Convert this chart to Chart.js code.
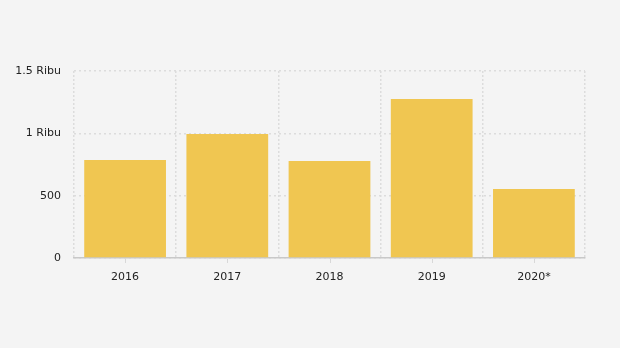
<!DOCTYPE html>
<html>
<head>
<meta charset="utf-8">
<script src="https://cdn.jsdelivr.net/npm/chart.js@4/dist/chart.umd.min.js"></script>
<style>
  html, body { margin: 0; padding: 0; background: #f4f4f4; }
  #wrap { width: 620px; height: 348px; position: relative; }
</style>
</head>
<body>
<div id="wrap"><canvas id="c" width="620" height="348"></canvas></div>
<script>
const categories = ["2016", "2017", "2018", "2019", "2020*"];
const values = [786, 994, 778, 1275, 553];
const yTicks = [0, 500, 1000, 1500];
const yTickLabels = ["0", "500", "1 Ribu", "1.5 Ribu"];

const centerTicks = {
  id: 'centerTicks',
  afterDatasetsDraw(chart) {
    const x = chart.scales.x, ctx = chart.ctx;
    ctx.save();
    ctx.strokeStyle = '#d8d8d8';
    ctx.lineWidth = 1;
    categories.forEach((c, i) => {
      const px = Math.round(x.getPixelForTick(i)) + 0.5;
      ctx.beginPath();
      ctx.moveTo(px, x.top + 1);
      ctx.lineTo(px, x.top + 5);
      ctx.stroke();
    });
    ctx.restore();
  }
};

new Chart(document.getElementById('c'), {
  type: 'bar',
  data: {
    labels: categories,
    datasets: [{
      data: values,
      backgroundColor: '#f0c651',
      borderWidth: 0,
      categoryPercentage: 1.0,
      barPercentage: 0.8
    }]
  },
  options: {
    responsive: false,
    animation: false,
    devicePixelRatio: 1,
    layout: { padding: { top: 71, right: 35, bottom: 60, left: 0 } },
    plugins: { legend: { display: false }, tooltip: { enabled: false } },
    scales: {
      x: {
        afterFit(s) { s.height = 30; },
        grid: { offset: true, color: '#dcdcdc', lineWidth: 1.5, drawTicks: false },
        border: { display: true, color: '#c8c8c8', width: 1.5, dash: [2, 2] },
        ticks: { color: '#222', font: { family: 'DejaVu Sans', size: 11 }, padding: 13 }
      },
      y: {
        min: 0, max: 1500,
        afterFit(s) { s.width = 74; },
        afterBuildTicks(s) { s.ticks = yTicks.map(v => ({ value: v })); },
        grid: { color: '#dcdcdc', lineWidth: 1.5, drawTicks: false },
        border: { display: false, dash: [2, 3] },
        ticks: {
          color: '#222', font: { family: 'DejaVu Sans', size: 11 }, padding: 13,
          callback(v) { const i = yTicks.indexOf(v); return i >= 0 ? yTickLabels[i] : ''; }
        }
      }
    }
  },
  plugins: [centerTicks]
});
</script>
</body>
</html>
